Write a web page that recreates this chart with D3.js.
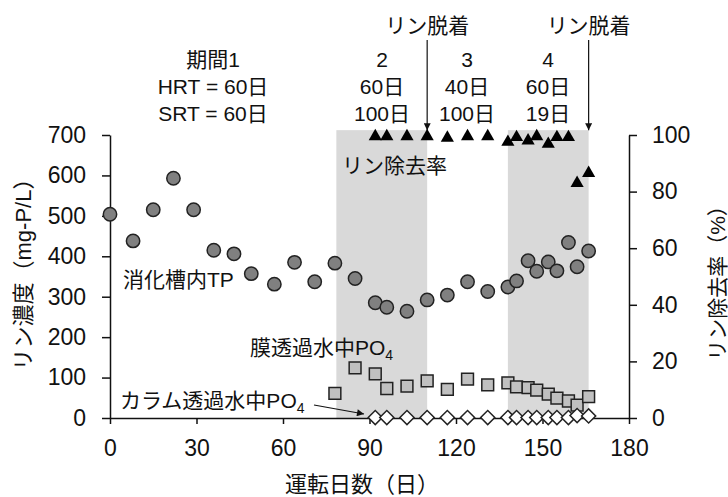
<!DOCTYPE html>
<html lang="ja">
<head>
<meta charset="utf-8">
<title>リン濃度</title>
<script src="https://cdn.jsdelivr.net/npm/d3@7"></script>
<style>
  body { margin: 0; background: #fff; }
  text { font-family: "Liberation Sans", Arial, "Noto Sans CJK JP", sans-serif; fill: #111; }
</style>
</head>
<body>
<script type="text/javascript">

    var width = 728;
    var height = 497;

    // 消化槽内TP (mg-P/L)
    var tpDays = [0, 8, 15, 22, 29, 36, 43, 49, 57, 64, 71, 78, 85, 92, 96, 103, 110, 117, 124, 131, 138, 141, 145, 148, 152, 155, 159, 162, 166];
    var tpValues = [504, 438, 515, 593, 515, 415, 406, 357, 331, 385, 337, 383, 345, 285, 274, 264, 292, 304, 337, 313, 324, 339, 389, 363, 386, 364, 434, 374, 413];

    // 膜透過水中PO4 (mg-P/L)
    var memDays = [78, 85, 92, 96, 103, 110, 117, 124, 131, 138, 141, 145, 148, 152, 155, 159, 162, 166];
    var memValues = [61, 124, 109, 73, 79, 92, 71, 96, 82, 87, 77, 75, 69, 59, 49, 42, 32, 53];

    // カラム透過水中PO4 (mg-P/L) と リン除去率 (%)
    var colDays = [92, 96, 103, 110, 117, 124, 131, 138, 141, 145, 148, 152, 155, 159, 162, 166];
    var colValues = [1, 1, 1, 1, 1, 1, 1, 1, 1, 1, 1, 1, 1, 1, 6, 5];
    var rateValues = [99.5, 99.5, 99.5, 99.5, 99, 99.5, 99.5, 97.5, 99.2, 98, 99.5, 96.8, 99.2, 99.2, 83, 86.5];

    // 期間 (shaded) and リン脱着 days
    var shadeStart = [78.5, 138];
    var shadeEnd = [110, 166];
    var desorbDays = [110, 166];

    var xTicks = [0, 30, 60, 90, 120, 150, 180];
    var yTicks = [0, 100, 200, 300, 400, 500, 600, 700];
    var rTicks = [0, 20, 40, 60, 80, 100];

    var svg = d3.select("body").append("svg")
    .attr("width", width)
    .attr("height", height);

    var x = d3.scaleLinear().domain([0, 180]).range([110, 629]);
    var y = d3.scaleLinear().domain([0, 700]).range([418, 135]);
    var yr = d3.scaleLinear().domain([0, 100]).range([418, 135]);

    // shaded periods
    svg.selectAll("rect.shade")
    .data(shadeStart)
    .enter()
    .append("rect")
    .attr("class", "shade")
    .attr("x", function (d) { return x(d); })
    .attr("width", function (d, i) { return x(shadeEnd[i]) - x(d); })
    .attr("y", y(712))
    .attr("height", y(0) - y(712))
    .attr("fill", "#d9d9d9");

    // axes
    var xAxis = svg.append("g")
    .attr("transform", "translate(0," + y(0) + ")")
    .call(d3.axisBottom(x).tickValues(xTicks).tickSize(6).tickSizeOuter(0).tickPadding(16));

    var yAxis = svg.append("g")
    .attr("transform", "translate(" + x(0) + ",0)")
    .call(d3.axisLeft(y).tickValues(yTicks).tickSize(8).tickSizeOuter(0).tickPadding(16));

    var rAxis = svg.append("g")
    .attr("transform", "translate(" + x(180) + ",0)")
    .call(d3.axisRight(yr).tickValues(rTicks).tickSize(8).tickSizeOuter(0).tickPadding(15));

    [xAxis, yAxis, rAxis].forEach(function (g) {
        g.selectAll("path, line").attr("stroke", "#111").attr("stroke-width", 1.5);
        g.selectAll("text").attr("font-size", 23).attr("fill", "#111")
        .attr("font-family", "'Liberation Sans', Arial, sans-serif");
    });

    // markers
    svg.selectAll("path.tp")
    .data(tpDays)
    .enter()
    .append("path")
    .attr("d", d3.symbol().type(d3.symbolCircle).size(140))
    .attr("transform", function (d, i) { return "translate(" + x(d) + "," + y(tpValues[i]) + ")"; })
    .attr("fill", "#808080")
    .attr("stroke", "#222")
    .attr("stroke-width", 1.5);

    svg.selectAll("path.mem")
    .data(memDays)
    .enter()
    .append("path")
    .attr("d", d3.symbol().type(d3.symbolSquare).size(140))
    .attr("transform", function (d, i) { return "translate(" + x(d) + "," + y(memValues[i]) + ")"; })
    .attr("fill", "#c0c0c0")
    .attr("stroke", "#222")
    .attr("stroke-width", 1.5);

    svg.selectAll("path.col")
    .data(colDays)
    .enter()
    .append("path")
    .attr("d", d3.symbol().type(d3.symbolSquare).size(100))
    .attr("transform", function (d, i) { return "translate(" + x(d) + "," + y(colValues[i]) + ") rotate(45)"; })
    .attr("fill", "#fff")
    .attr("stroke", "#222")
    .attr("stroke-width", 1.5);

    svg.selectAll("path.rate")
    .data(colDays)
    .enter()
    .append("path")
    .attr("d", d3.symbol().type(d3.symbolTriangle).size(75))
    .attr("transform", function (d, i) { return "translate(" + x(d) + "," + yr(rateValues[i]) + ")"; })
    .attr("fill", "#000");

    // arrow heads
    var defs = svg.append("defs");
    defs.append("marker")
    .attr("id", "head")
    .attr("viewBox", "0 0 10 10")
    .attr("refX", 10).attr("refY", 5)
    .attr("markerWidth", 9).attr("markerHeight", 7)
    .attr("markerUnits", "userSpaceOnUse")
    .attr("orient", "auto")
    .append("path")
    .attr("d", "M0,0L10,5L0,10Z")
    .attr("fill", "#111");

    // リン脱着 arrows
    desorbDays.forEach(function (d) {
        svg.append("line")
        .attr("x1", x(d)).attr("x2", x(d))
        .attr("y1", 40).attr("y2", y(712))
        .attr("stroke", "#111").attr("stroke-width", 1.2)
        .attr("marker-end", "url(#head)");
        svg.append("text")
        .attr("x", x(d)).attr("y", 33)
        .attr("text-anchor", "middle")
        .attr("font-size", 21)
        .text("リン脱着");
    });

    // period labels
    var periodRows = [
        ["期間1", "HRT = 60日", "SRT = 60日"],
        ["2", "60日", "100日"],
        ["3", "40日", "100日"],
        ["4", "60日", "19日"]
    ];
    var periodX = [213, 382, 467, 548];
    periodRows.forEach(function (rows, i) {
        rows.forEach(function (t, j) {
            svg.append("text")
            .attr("x", periodX[i]).attr("y", 67 + j * 27)
            .attr("text-anchor", "middle")
            .attr("font-size", 21)
            .text(t);
        });
    });

    // series labels
    svg.append("text").attr("x", 123).attr("y", 287).attr("font-size", 21).text("消化槽内TP");
    svg.append("text").attr("x", 342).attr("y", 173).attr("font-size", 21).text("リン除去率");

    var mem = svg.append("text").attr("x", 250).attr("y", 355).attr("font-size", 21);
    mem.append("tspan").text("膜透過水中PO");
    mem.append("tspan").attr("font-size", 14).attr("dy", 5).text("4");

    var col = svg.append("text").attr("x", 120).attr("y", 408).attr("font-size", 21);
    col.append("tspan").text("カラム透過水中PO");
    col.append("tspan").attr("font-size", 14).attr("dy", 5).text("4");

    svg.append("line")
    .attr("x1", 314).attr("y1", 405)
    .attr("x2", 364).attr("y2", 414)
    .attr("stroke", "#111").attr("stroke-width", 1.2)
    .attr("marker-end", "url(#head)");

    // axis titles
    svg.append("text")
    .attr("transform", "translate(31,269) rotate(-90)")
    .attr("text-anchor", "middle")
    .attr("font-size", 22)
    .text("リン濃度（mg-P/L）");

    svg.append("text")
    .attr("transform", "translate(725,278) rotate(-90)")
    .attr("text-anchor", "middle")
    .attr("font-size", 21)
    .text("リン除去率（%）");

    svg.append("text")
    .attr("x", 362).attr("y", 492)
    .attr("text-anchor", "middle")
    .attr("font-size", 22)
    .text("運転日数（日）");

</script>
</body>
</html>
